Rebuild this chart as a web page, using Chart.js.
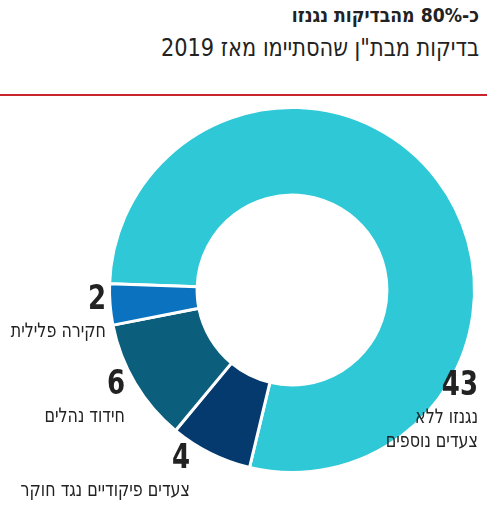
<!DOCTYPE html>
<html><head><meta charset="utf-8">
<script src="https://cdn.jsdelivr.net/npm/chart.js@4"></script>
<style>
body{margin:0;width:487px;height:507px;background:#fff;position:relative;overflow:hidden;font-family:"DejaVu Sans Condensed","Liberation Sans Narrow",sans-serif}
#t1{position:absolute;right:8px;top:3px;font-weight:bold;font-size:20px;color:#222;direction:rtl;transform:scaleX(0.96);transform-origin:right}
#t2{position:absolute;right:8px;top:33px;font-size:25px;color:#222;direction:rtl;transform:scaleX(0.93);transform-origin:right}
#rule{position:absolute;left:0;right:0;top:94px;height:2px;background:#c8262c}
canvas{position:absolute;left:0;top:0}
</style></head><body>
<div id="t1">כ-80% מהבדיקות נגנזו</div>
<div id="t2">בדיקות מבת"ן שהסתיימו מאז 2019</div>
<div id="rule"></div>
<canvas id="c" width="487" height="507"></canvas>
<script>
const categories=["נגנזו ללא צעדים נוספים","צעדים פיקודיים נגד חוקר","חידוד נהלים","חקירה פלילית"];
const values=[43,4,6,2];
const colors=["#2ec8d6","#053a6e","#0b5e7c","#0a72be"];
const labelPos=[[478,395,["נגנזו ללא","צעדים נוספים"]],[190,468,["צעדים פיקודיים נגד חוקר"]],[125,394,["חידוד נהלים"]],[106,309,["חקירה פלילית"]]];
const F='"DejaVu Sans Condensed","Liberation Sans Narrow",sans-serif';
const labels={id:'lbl',afterDraw(ch){const x=ch.ctx;x.save();x.textAlign='right';x.fillStyle='#222';
labelPos.forEach((p,i)=>{x.save();x.translate(p[0],p[1]);x.scale(0.85,1);
x.font='bold 34px '+F;x.fillText(values[i],0,0);
x.scale(1.04,1);x.font='20px '+F;p[2].forEach((l,j)=>x.fillText(l,0,28+j*24));x.restore();});x.restore();}};
new Chart(document.getElementById('c'),{type:'doughnut',data:{labels:categories,datasets:[{data:values,backgroundColor:colors,borderColor:'#fff',borderWidth:3}]},
options:{responsive:false,animation:false,rotation:-88,cutout:'52%',layout:{padding:{left:108,right:11,top:106,bottom:33}},plugins:{legend:{display:false},tooltip:{enabled:false}}},plugins:[labels]});
</script></body></html>
